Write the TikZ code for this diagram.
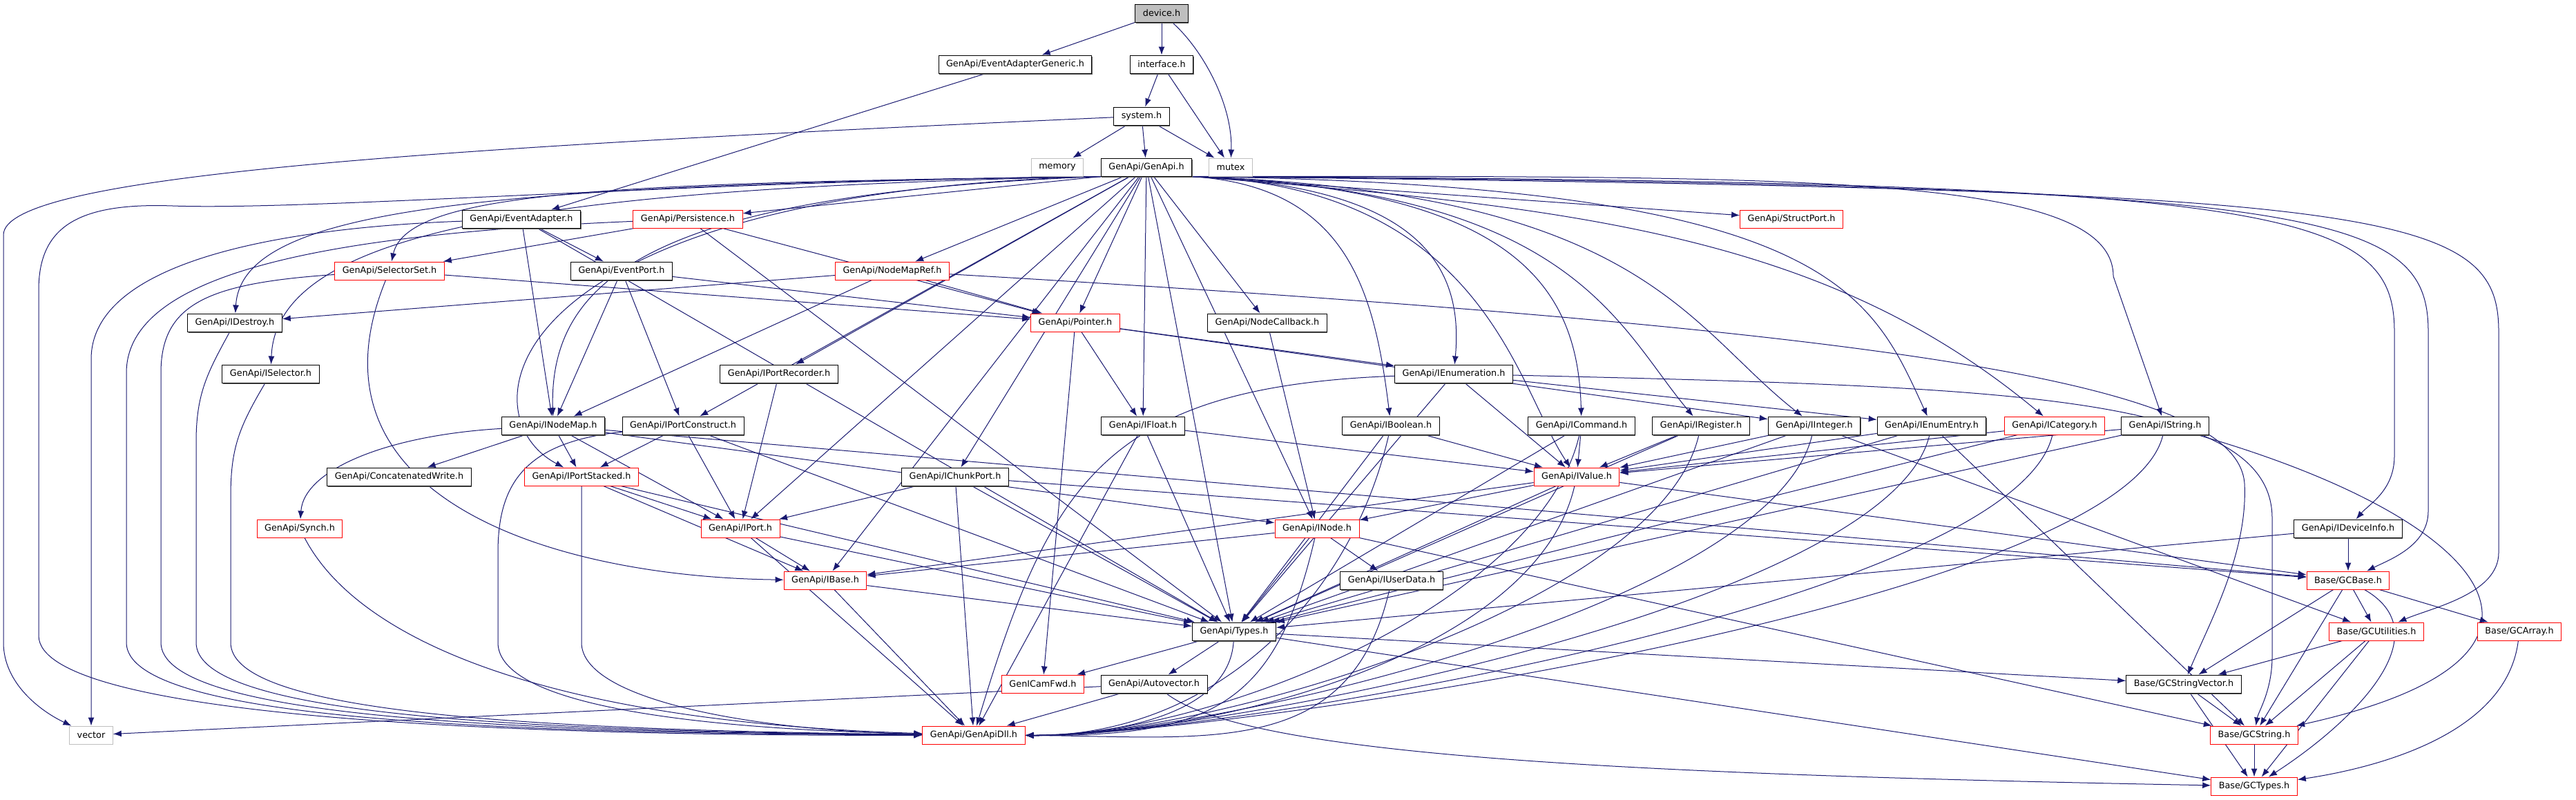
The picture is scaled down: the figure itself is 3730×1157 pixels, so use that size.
\documentclass[tikz,border=0pt]{standalone}
\usepackage{fontspec}
\setmainfont{DejaVu Sans}
\usetikzlibrary{arrows.meta,shadows,backgrounds,calc}
\definecolor{edgeblue}{HTML}{191970}
\definecolor{boxgrey}{HTML}{BFBFBF}
\tikzset{
  hdr/.style={draw, fill=white, line width=0.5pt, inner xsep=5.5pt, inner ysep=0pt,
    minimum height=13pt, font=\fontsize{6.4pt}{7.7pt}\selectfont},
  hdrdoc/.style={hdr, draw=black,
    general shadow={fill=black!60, shadow xshift=0.5pt, shadow yshift=-0.9pt}},
  hdrred/.style={hdr, draw=red},
  hdrsys/.style={hdr, draw=boxgrey},
  hdrtop/.style={hdrdoc, fill=boxgrey},
  inc/.style={draw=edgeblue, line width=0.5pt, -{Latex[length=6pt,width=4.5pt]}}
}
\begin{document}
\begin{tikzpicture}[x=0.5pt, y=-0.5pt]
  \useasboundingbox (0,0) rectangle (3730,1157);

  % top of the tree
  \node[hdrtop] (device) at (1682,19) {device.h};
  \node[hdrdoc] (evgen) at (1470,93) {GenApi/EventAdapterGeneric.h};
  \node[hdrdoc] (iface) at (1682,93) {interface.h};
  \node[hdrdoc] (system) at (1653,168) {system.h};
  \node[hdrsys] (memory) at (1531,242) {memory};
  \node[hdrdoc] (genapi) at (1660,242) {GenApi/GenApi.h};
  \node[hdrsys] (mutex) at (1782,242) {mutex};

  % GenApi headers
  \node[hdrdoc] (evadapter) at (755,317) {GenApi/EventAdapter.h};
  \node[hdrred] (persist) at (996,317) {GenApi/Persistence.h};
  \node[hdrred] (structport) at (2594,317) {GenApi/StructPort.h};
  \node[hdrred] (selset) at (564,392) {GenApi/SelectorSet.h};
  \node[hdrdoc] (evport) at (900,392) {GenApi/EventPort.h};
  \node[hdrred] (nmapref) at (1292,392) {GenApi/NodeMapRef.h};
  \node[hdrdoc] (idestroy) at (340,467) {GenApi/IDestroy.h};
  \node[hdrred] (pointer) at (1557,467) {GenApi/Pointer.h};
  \node[hdrdoc] (nodecb) at (1835,467) {GenApi/NodeCallback.h};
  \node[hdrdoc] (iselector) at (392,541) {GenApi/ISelector.h};
  \node[hdrdoc] (iportrec) at (1128,541) {GenApi/IPortRecorder.h};
  \node[hdrdoc] (ienum) at (2105,541) {GenApi/IEnumeration.h};
  \node[hdrdoc] (inodemap) at (801,616) {GenApi/INodeMap.h};
  \node[hdrdoc] (iportcon) at (989,616) {GenApi/IPortConstruct.h};
  \node[hdrdoc] (ifloat) at (1655,616) {GenApi/IFloat.h};
  \node[hdrdoc] (ibool) at (2014,616) {GenApi/IBoolean.h};
  \node[hdrdoc] (icmd) at (2290,616) {GenApi/ICommand.h};
  \node[hdrdoc] (ireg) at (2463,616) {GenApi/IRegister.h};
  \node[hdrdoc] (iint) at (2627,616) {GenApi/IInteger.h};
  \node[hdrdoc] (ienumentry) at (2797,616) {GenApi/IEnumEntry.h};
  \node[hdrred] (icat) at (2975,616) {GenApi/ICategory.h};
  \node[hdrdoc] (istring) at (3135,616) {GenApi/IString.h};
  \node[hdrdoc] (concat) at (578,690) {GenApi/ConcatenatedWrite.h};
  \node[hdrred] (iportstk) at (842,690) {GenApi/IPortStacked.h};
  \node[hdrdoc] (ichunk) at (1383,690) {GenApi/IChunkPort.h};
  \node[hdrred] (ivalue) at (2283,690) {GenApi/IValue.h};
  \node[hdrred] (synch) at (434,765) {GenApi/Synch.h};
  \node[hdrred] (iport) at (1072,765) {GenApi/IPort.h};
  \node[hdrred] (inode) at (1907,765) {GenApi/INode.h};
  \node[hdrdoc] (idevinfo) at (3400,765) {GenApi/IDeviceInfo.h};
  \node[hdrred] (ibase) at (1195,840) {GenApi/IBase.h};
  \node[hdrdoc] (iuserdata) at (2015,840) {GenApi/IUserData.h};
  \node[hdrdoc] (types) at (1787,914) {GenApi/Types.h};
  \node[hdrred] (gcamfwd) at (1510,990) {GenICamFwd.h};
  \node[hdrdoc] (autovec) at (1671,990) {GenApi/Autovector.h};
  \node[hdrsys] (vector) at (132,1064) {vector};
  \node[hdrred] (dll) at (1410,1064) {GenApi/GenApiDll.h};

  % Base headers
  \node[hdrred] (gcbase) at (3400,840) {Base/GCBase.h};
  \node[hdrred] (gcutil) at (3441,914) {Base/GCUtilities.h};
  \node[hdrred] (gcarray) at (3648,914) {Base/GCArray.h};
  \node[hdrdoc] (gcstrvec) at (3162,990) {Base/GCStringVector.h};
  \node[hdrred] (gcstring) at (3264,1064) {Base/GCString.h};
  \node[hdrred] (gctypes) at (3264,1138) {Base/GCTypes.h};

  \begin{scope}[on background layer]
    % direct includes
    \foreach \a/\b in {device/evgen, device/iface, iface/system, iface/mutex,
      system/memory, system/genapi, system/mutex,
      evgen/evadapter, evadapter/evport, evadapter/inodemap, evadapter/types,
      persist/selset, persist/pointer, persist/types,
      genapi/nmapref, genapi/pointer, genapi/nodecb,
      genapi/ifloat, genapi/ichunk, genapi/inode, genapi/types, genapi/iportrec,
      genapi/iportcon, genapi/iport, genapi/ibase,
      selset/pointer, evport/inodemap, evport/iportcon, evport/pointer,
      nmapref/pointer, nmapref/inodemap, nmapref/idestroy,
      pointer/ifloat, pointer/ienum, pointer/iint, pointer/gcamfwd,
      nodecb/inode, iportrec/iport,
      ienum/ienumentry, ienum/ivalue, ienum/types,
      ifloat/ivalue, ifloat/types, ifloat/dll,
      ibool/ivalue, ibool/types, icmd/ivalue, icmd/types,
      ireg/ivalue, ireg/types, iint/ivalue, iint/types, iint/gcutil,
      ienumentry/ivalue, ienumentry/types, ienumentry/gcstring,
      icat/ivalue, icat/types, istring/ivalue, istring/types,
      idevinfo/gcbase, idevinfo/types,
      ichunk/iport, ichunk/types, ichunk/dll, ichunk/gcbase,
      ivalue/inode, ivalue/ibase, ivalue/types, ivalue/gcbase,
      inode/ibase, inode/types, inode/iuserdata, inode/gcstring,
      inodemap/concat, inodemap/iportstk, inodemap/iport, inodemap/inode, inodemap/gcbase,
      iportcon/iport, iportcon/iportstk, iportcon/types,
      iportstk/iport, iportstk/ibase, iportstk/types,
      iport/ibase, iport/types, iport/dll, ibase/types, ibase/dll,
      types/gcamfwd, types/autovec, types/gcstrvec, types/gctypes,
      autovec/vector, autovec/dll,
      gcbase/gcutil, gcbase/gcarray, gcbase/gcstrvec, gcbase/gcstring,
      gcutil/gcstrvec, gcutil/gcstring, gcutil/gctypes,
      gcstrvec/gcstring, gcstrvec/gctypes, gcstring/gctypes}
      \draw[inc] (\a) -- (\b);
    \draw[inc] (device) .. controls (1740,70) and (1785,150) .. (mutex);

    % right-hand headers into GenApiDll.h
    \foreach \a in {ibool, icmd, ireg, iint, ienumentry, icat, istring, ivalue, inode, iuserdata}
      \draw[inc] (\a) .. controls ($(\a)+(-60,260)$) and (1750,1066) .. (dll);
    \draw[inc] (types) .. controls (1780,1040) and (1600,1064) .. (dll);
    \draw[inc] (ienum) .. controls (1600,560) and (1520,700) .. (dll);

    % GenApi.h to the left
    \draw[inc] (genapi.south west) -- (persist);
    \draw[inc] (genapi.south west) .. controls (900,265) and (590,275) .. (selset);
    \draw[inc] (genapi.south west) .. controls (700,268) and (350,300) .. (idestroy);
    \draw[inc] (genapi.south west) .. controls (800,272) and (400,330) .. (iselector);
    \draw[inc] (genapi.south west) .. controls (950,280) and (795,400) .. (inodemap);
    \draw[inc] (genapi.south west) .. controls (720,278) and (670,600) .. (iportstk);
    \draw[inc] (genapi.south west) .. controls (1000,262) and (450,305) .. (250,298)
      .. controls (110,293) and (56,330) .. (56,420) -- (56,920)
      .. controls (56,1035) and (700,1066) .. (dll);

    % GenApi.h to the right
    \draw[inc] (genapi.south east) -- (structport);
    \draw[inc] (genapi.south east) .. controls (1950,270) and (1990,420) .. (ibool);
    \draw[inc] (genapi.south east) .. controls (2050,270) and (2120,380) .. (ienum);
    \draw[inc] (genapi.south east) .. controls (2150,270) and (2195,560) .. (ivalue);
    \draw[inc] (genapi.south east) .. controls (2200,272) and (2285,420) .. (icmd);
    \draw[inc] (genapi.south east) .. controls (2280,275) and (2340,470) .. (ireg);
    \draw[inc] (genapi.south east) .. controls (2380,278) and (2440,470) .. (iint);
    \draw[inc] (genapi.south east) .. controls (2650,268) and (2707,420) .. (ienumentry);
    \draw[inc] (genapi.south east) .. controls (2300,300) and (2650,345) .. (icat);
    \draw[inc] (genapi.south east) .. controls (2600,255) and (3060,250) .. (3060,400) -- (istring);
    \draw[inc] (genapi.south east) .. controls (3300,262) and (3467,300) .. (3467,480) -- (3467,660)
      .. controls (3467,710) and (3430,730) .. (idevinfo);
    \draw[inc] (genapi.south east) .. controls (3350,268) and (3516,300) .. (3516,480) -- (3516,740)
      .. controls (3516,790) and (3460,810) .. (gcbase);
    \draw[inc] (genapi.south east) .. controls (3450,275) and (3618,300) .. (3618,480) -- (3618,800)
      .. controls (3618,860) and (3520,880) .. (gcutil);

    % long ways round on the left
    \draw[inc] (system) .. controls (600,215) and (5,255) .. (5,340) -- (5,930)
      .. controls (5,990) and (60,1030) .. (vector);
    \draw[inc] (evadapter) .. controls (400,330) and (132,380) .. (132,520) -- (vector);
    \draw[inc] (persist) .. controls (450,340) and (183,400) .. (183,540) -- (183,930)
      .. controls (183,1040) and (700,1062) .. (dll);
    \draw[inc] (selset) .. controls (300,410) and (233,440) .. (233,540) -- (233,930)
      .. controls (233,1035) and (700,1060) .. (dll);
    \draw[inc] (idestroy) .. controls (300,540) and (284,570) .. (284,640) -- (284,930)
      .. controls (284,1030) and (700,1058) .. (dll);
    \draw[inc] (iselector) .. controls (345,620) and (334,650) .. (334,720) -- (334,930)
      .. controls (334,1025) and (700,1056) .. (dll);
    \draw[inc] (synch) .. controls (520,930) and (800,1045) .. (dll);
    \draw[inc] (iportcon) .. controls (760,640) and (721,700) .. (721,800) -- (721,930)
      .. controls (721,1020) and (1000,1055) .. (dll);
    \draw[inc] (iportstk.south) -- (842,930) .. controls (842,1015) and (1100,1058) .. (dll);
    \draw[inc] (inodemap) .. controls (560,630) and (440,680) .. (synch);
    \draw[inc] (selset) .. controls (430,720) and (800,835) .. (ibase);

    % long ways round on the right
    \draw[inc] (nmapref) .. controls (2800,480) and (3240,560) .. (3250,700)
      .. controls (3255,800) and (3200,900) .. (gcstrvec);
    \draw[inc] (ienum) .. controls (2900,560) and (3290,570) .. (3290,750) -- (3290,950)
      .. controls (3290,1000) and (3270,1030) .. (gcstring);
    \draw[inc] (istring) .. controls (3600,750) and (3780,950) .. (gcstring);
    \draw[inc] (autovec) .. controls (1800,1090) and (2300,1120) .. (gctypes);
    \draw[inc] (gcbase) .. controls (3540,920) and (3400,1050) .. (gctypes);
    \draw[inc] (gcarray) .. controls (3630,1060) and (3450,1110) .. (gctypes);
  \end{scope}

\end{tikzpicture}
\end{document}
